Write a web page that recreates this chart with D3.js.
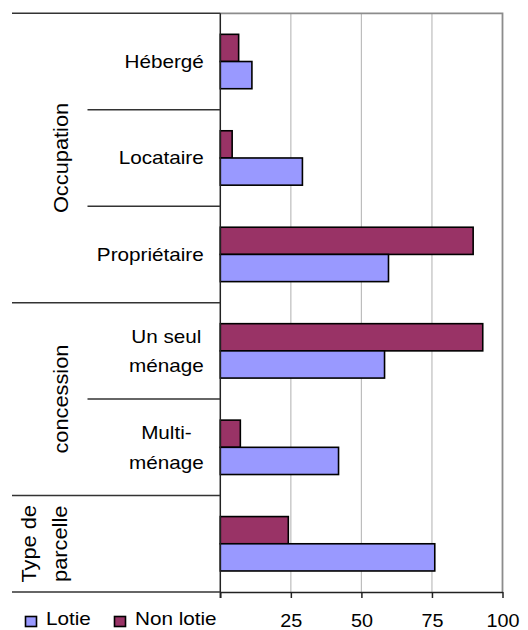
<!DOCTYPE html>
<html>
<head>
<meta charset="utf-8">
<script src="https://cdn.jsdelivr.net/npm/d3@7"></script>
<style>
  html, body { margin: 0; padding: 0; background: #fff; }
  svg { display: block; font-family: "Liberation Sans", Arial, sans-serif; }
</style>
</head>
<body>
<svg id="chart" width="528" height="630"></svg>
<script>
// ---- data ----
const groups = ["Occupation", "concession", "Type de\nparcelle"];
const categories = ["Hébergé", "Locataire", "Propriétaire", "Un seul\nménage", "Multi-\nménage", ""];
const categoryGroup = [0, 0, 0, 1, 1, 2];
const seriesNames = ["Non lotie", "Lotie"];
const lotie = [11.2, 29.1, 59.6, 58.2, 41.9, 76.0];
const nonLotie = [6.5, 4.2, 89.6, 93.0, 7.1, 24.1];
const xTicks = [25, 50, 75, 100];
const legendOrder = ["Lotie", "Non lotie"];
const colors = { "Lotie": "#9999FF", "Non lotie": "#993366" };

(function() {
// ---- layout ----
const svg = d3.select("#chart");
const pL = 220.3, pR = 502.5, pT = 13.3, pB = 592;
const x = d3.scaleLinear().domain([0, 100]).range([pL, pR]);
const y = d3.scaleBand().domain(d3.range(categories.length)).range([pT, pB])
  .paddingInner(0.436).paddingOuter(0.218);
const ys = d3.scaleBand().domain(seriesNames).range([0, y.bandwidth()]);
const step = y.step();
const lineY = i => pT + i * step;

const SX = 1.15;   // horizontal glyph stretch of the reference font
const RSX = 1.09;

// gridlines
svg.append("g").selectAll("line").data(xTicks.filter(t => t < 100)).join("line")
  .attr("x1", d => x(d)).attr("x2", d => x(d)).attr("y1", pT).attr("y2", pB)
  .attr("stroke", "#bdbdbd").attr("stroke-width", 1.2);
// plot border top & right
svg.append("path")
  .attr("d", `M${pL},${pT}H${pR}V${pB}`)
  .attr("fill", "none").attr("stroke", "#8c8c8c").attr("stroke-width", 1.8);

// bars
const rows = categories.map((c, i) => ({ i, "Lotie": lotie[i], "Non lotie": nonLotie[i] }));
const bars = svg.append("g");
rows.forEach(r => {
  seriesNames.forEach(s => {
    bars.append("rect")
      .attr("x", x(0))
      .attr("y", y(r.i) + ys(s))
      .attr("width", x(r[s]) - x(0))
      .attr("height", ys.bandwidth())
      .attr("fill", colors[s])
      .attr("stroke", "#000").attr("stroke-width", 1.6);
  });
});

// left axis line
svg.append("line").attr("x1", pL).attr("x2", pL).attr("y1", pT).attr("y2", pB + 6)
  .attr("stroke", "#222").attr("stroke-width", 1.5);

// bottom axis using d3.axisBottom
const xAxis = d3.axisBottom(x).tickValues([0].concat(xTicks)).tickSize(6).tickSizeOuter(0).tickFormat(d => d === 0 ? "" : d);
const ax = svg.append("g").attr("transform", `translate(0,${pB})`).call(xAxis);
ax.select(".domain").attr("stroke", "#222").attr("stroke-width", 1.5);
ax.selectAll(".tick line").attr("stroke", "#222").attr("stroke-width", 1.5);
ax.selectAll(".tick text").remove();
ax.selectAll(".tick").each(function(d) {
  if (d === 0) return;
  d3.select(this).append("text")
    .attr("transform", `translate(0,${627 - pB}) scale(${1.1},1)`)
    .attr("text-anchor", "middle").attr("font-size", 18).attr("fill", "#000")
    .attr("font-family", "Liberation Sans, Arial, sans-serif")
    .text(d);
});

// hierarchy separator lines
const outer = [0, 3, 5, 6], inner = [1, 2, 4];
svg.append("g").selectAll("line").data(outer).join("line")
  .attr("x1", 12).attr("x2", pL).attr("y1", d => lineY(d)).attr("y2", d => lineY(d))
  .attr("stroke", "#333").attr("stroke-width", 1.5);
svg.append("g").selectAll("line").data(inner).join("line")
  .attr("x1", 87.5).attr("x2", pL).attr("y1", d => lineY(d)).attr("y2", d => lineY(d))
  .attr("stroke", "#333").attr("stroke-width", 1.5);

// category labels
const labelRight = 203.8, lh = 29.4;
categories.forEach((c, i) => {
  if (!c) return;
  const lines = c.split("\n");
  const cy = y(i) + y.bandwidth() / 2;
  const g = svg.append("g");
  const texts = lines.map((ln, k) => g.append("text")
    .attr("font-size", 18).attr("fill", "#000").attr("text-anchor", "middle")
    .text(ln));
  const widths = texts.map(t => t.node().getComputedTextLength() * SX);
  const maxW = d3.max(widths);
  const cx = labelRight - maxW / 2;
  texts.forEach((t, k) => {
    const by = cy + 6.5 + (k - (lines.length - 1) / 2) * lh;
    t.attr("transform", `translate(${cx},${by}) scale(${SX},1)`);
  });
});

// group labels (rotated)
const groupSpans = [[0, 3], [3, 5], [5, 6]];
const rlh = 31;
groups.forEach((gname, gi) => {
  const [a, b] = groupSpans[gi];
  const cy = (lineY(a) + lineY(b)) / 2;
  const lines = gname.split("\n");
  lines.forEach((ln, k) => {
    const bx = 67.5 - (lines.length - 1 - k) * rlh - (lines.length > 1 ? 1 : 0);
    svg.append("text")
      .attr("transform", `translate(${bx},${cy}) rotate(-90) scale(${RSX},1)`)
      .attr("text-anchor", "middle").attr("font-size", 20).attr("fill", "#000")
      .text(ln);
  });
});

// legend
const lg = svg.append("g");
const legendX = [25.5, 114.5];
legendOrder.forEach((s, i) => {
  lg.append("rect").attr("x", legendX[i]).attr("y", 616.5).attr("width", 11).attr("height", 10)
    .attr("fill", colors[s]).attr("stroke", "#000").attr("stroke-width", 1.6);
  lg.append("text")
    .attr("transform", `translate(${legendX[i] + 20.5},625) scale(${SX},1)`)
    .attr("font-size", 18).attr("fill", "#000").text(s);
});
})();
</script>
</body>
</html>
